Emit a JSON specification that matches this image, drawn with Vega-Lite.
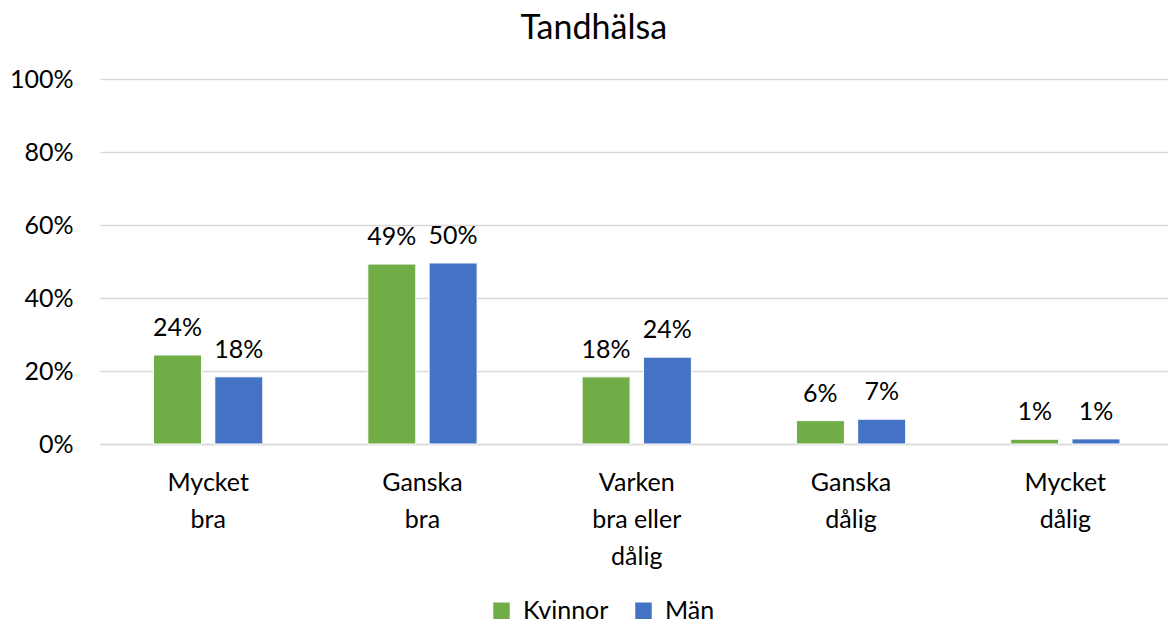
{
  "$schema": "https://vega.github.io/schema/vega-lite/v6.json",
  "autosize": "none",
  "width": 1068,
  "height": 365,
  "padding": {"left": 100, "top": 79, "right": 0, "bottom": 180},
  "background": "white",
  "title": {"text": "Tandhälsa", "fontSize": 34, "font": "Lato", "fontWeight": "normal", "color": "#000000", "frame": "bounds", "anchor": "middle", "offset": 21, "dx": 5},
  "config": {
    "font": "Lato",
    "view": {"stroke": null},
    "axis": {"labelFont": "Lato", "labelFontSize": 25, "labelColor": "#000000", "ticks": false, "labelOverlap": false},
    "legend": {"labelFont": "Lato", "labelFontSize": 25, "labelColor": "#000000"}
  },
  "data": {
    "values": [
      {"cat": "Mycket bra", "kon": "Kvinnor", "v": 0.244},
      {"cat": "Mycket bra", "kon": "Män", "v": 0.184},
      {"cat": "Ganska bra", "kon": "Kvinnor", "v": 0.493},
      {"cat": "Ganska bra", "kon": "Män", "v": 0.496},
      {"cat": "Varken bra eller dålig", "kon": "Kvinnor", "v": 0.184},
      {"cat": "Varken bra eller dålig", "kon": "Män", "v": 0.238},
      {"cat": "Ganska dålig", "kon": "Kvinnor", "v": 0.064},
      {"cat": "Ganska dålig", "kon": "Män", "v": 0.068},
      {"cat": "Mycket dålig", "kon": "Kvinnor", "v": 0.013},
      {"cat": "Mycket dålig", "kon": "Män", "v": 0.014}
    ]
  },
  "encoding": {
    "x": {
      "field": "cat", "type": "nominal", "sort": null, "title": null,
      "scale": {"paddingInner": 0.49, "paddingOuter": 0.237, "align": 0.527},
      "axis": {
        "labelAngle": 0, "domainColor": "#d9d9d9", "domainWidth": 1.5, "labelPadding": 26, "labelLineHeight": 37, "labelBaseline": "top",
        "labelExpr": "datum.value == 'Varken bra eller dålig' ? ['Varken', 'bra eller', 'dålig'] : split(datum.value, ' ')"
      }
    },
    "xOffset": {"field": "kon", "type": "nominal", "scale": {"paddingInner": 0.217, "paddingOuter": 0}},
    "y": {
      "field": "v", "type": "quantitative", "title": null,
      "scale": {"domain": [0, 1]},
      "axis": {"format": ".0%", "values": [0, 0.2, 0.4, 0.6, 0.8, 1], "domain": false, "gridColor": "#d9d9d9", "gridWidth": 1.5, "labelPadding": 27}
    },
    "color": {
      "field": "kon", "type": "nominal", "title": null,
      "scale": {"domain": ["Kvinnor", "Män"], "range": ["#70AD47", "#4472C4"]},
      "legend": {"orient": "none", "direction": "horizontal", "legendX": 389, "legendY": 519, "symbolType": "square", "symbolSize": 272, "symbolStrokeWidth": 0, "labelOffset": 9, "columnPadding": 22}
    }
  },
  "layer": [
    {"mark": {"type": "bar", "stroke": "white", "strokeWidth": 1}},
    {"mark": {"type": "text", "baseline": "alphabetic", "dy": -19, "fontSize": 25, "color": "#000000"},
     "encoding": {"text": {"field": "v", "format": ".0%"}, "color": {"value": "#000000"}}}
  ]
}
